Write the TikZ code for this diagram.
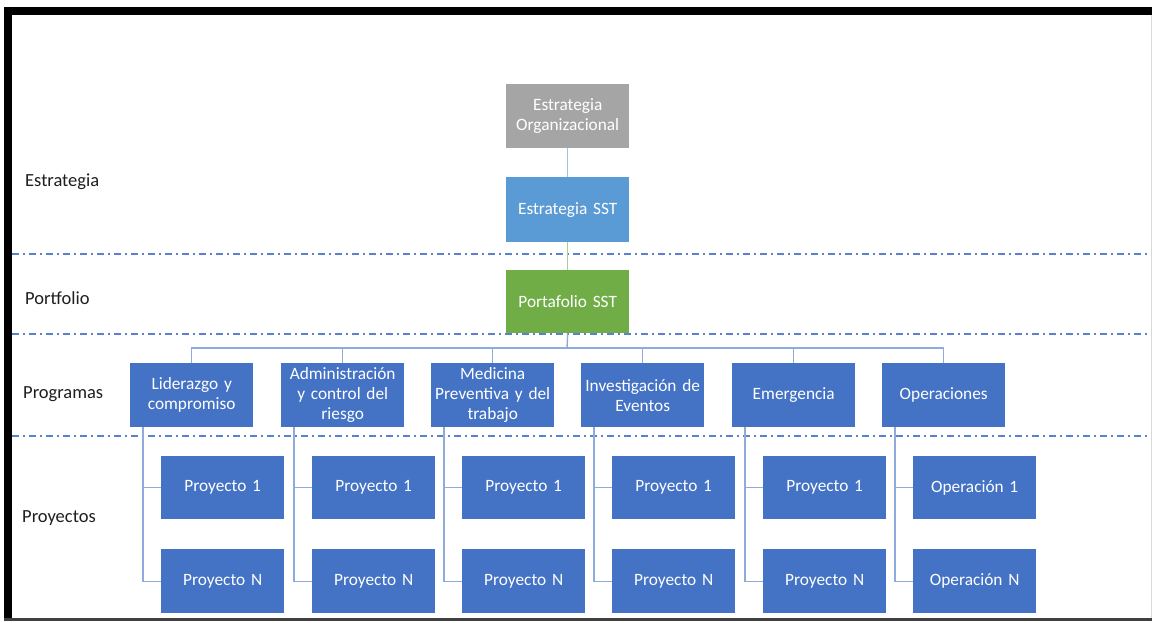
\documentclass[tikz,border=0pt]{standalone}
\usepackage{fontspec}
\setmainfont{Carlito}
\definecolor{orggray}{HTML}{A5A5A5}
\definecolor{sstblue}{HTML}{5B9BD5}
\definecolor{portgreen}{HTML}{70AD47}
\definecolor{boxblue}{HTML}{4472C4}
\definecolor{linkblue}{HTML}{8FAADC}
\definecolor{linkgreen}{HTML}{A9D18E}
\definecolor{linklight}{HTML}{9DC3E6}
\definecolor{sepblue}{HTML}{5A82CC}
\definecolor{labeltext}{HTML}{1E1E1E}
\begin{document}
\begin{tikzpicture}[x=1pt,y=-1pt,
  basebox/.style={text=white, inner sep=0pt, anchor=north west, align=center,
    minimum width=123pt, text width=121pt, font=\fontsize{17.3}{20}\selectfont},
  topbox/.style={basebox, minimum height=64pt},
  progbox/.style={basebox, fill=boxblue, minimum height=64pt},
  projbox/.style={basebox, fill=boxblue, minimum height=63pt},
  conn/.style={draw=linkblue, line width=1.4pt},
  sep/.style={draw=sepblue, line width=1.9pt, dash pattern=on 7pt off 4pt on 2pt off 4pt},
  rowlabel/.style={anchor=west, inner sep=0pt, text=labeltext, font=\fontsize{18.5}{20}\selectfont}
]
\useasboundingbox (0,0) rectangle (1152,622);

% frame
\fill[black] (4,7) rectangle (1152,15);
\fill[black] (4,7) rectangle (12,620);
\fill[black!75] (4,618) rectangle (1152,621);
\fill[black!15] (1150.5,15) rectangle (1152,618);

% level separators
\draw[sep] (12,254) -- (1150,254);
\draw[sep] (12,334) -- (1150,334);
\draw[sep] (12,436) -- (1150,436);

% row labels
\node[rowlabel] (lEst) at (25,182) {Estrategia};
\node[rowlabel] (lPort) at (25,298) {Portfolio};
\node[rowlabel] (lProg) at (23,394) {Programas};
\node[rowlabel] (lProy) at (22,518) {Proyectos};

% top chain
\node[topbox, fill=orggray] (org) at (506,84) {Estrategia\\Organizacional};
\node[topbox, fill=sstblue, minimum height=65pt] (sst) at (506,177) {Estrategia SST};
\node[topbox, fill=portgreen, minimum height=63pt] (port) at (506,270) {Portafolio SST};
\draw[draw=linklight, line width=1.4pt] (org.south) -- (sst.north);
\draw[draw=linkgreen, line width=1.4pt] (sst.south) -- (port.north);

% programs
\node[progbox] (g1) at (130,363) {Liderazgo y\\compromiso};
\node[progbox] (g2) at (281,363) {Administración\\y control del\\riesgo};
\node[progbox] (g3) at (431,363) {Medicina\\Preventiva y del\\trabajo};
\node[progbox] (g4) at (581,363) {Investigación de\\Eventos};
\node[progbox] (g5) at (732,363) {Emergencia};
\node[progbox] (g6) at (882,363) {Operaciones};

\coordinate (bus) at (567,348);
\draw[conn] (port.south) -- (bus);
\foreach \g in {g1,g2,g3,g4,g5,g6}{
  \draw[conn] (bus) -| (\g.north);
}

% projects
\node[projbox] (g1a) at (161,456) {Proyecto 1};
\node[projbox, minimum height=64pt] (g1b) at (161,549) {Proyecto N};
\node[projbox] (g2a) at (312,456) {Proyecto 1};
\node[projbox, minimum height=64pt] (g2b) at (312,549) {Proyecto N};
\node[projbox] (g3a) at (462,456) {Proyecto 1};
\node[projbox, minimum height=64pt] (g3b) at (462,549) {Proyecto N};
\node[projbox] (g4a) at (612,456) {Proyecto 1};
\node[projbox, minimum height=64pt] (g4b) at (612,549) {Proyecto N};
\node[projbox] (g5a) at (763,456) {Proyecto 1};
\node[projbox, minimum height=64pt] (g5b) at (763,549) {Proyecto N};
\node[projbox] (g6a) at (913,456) {Operación 1};
\node[projbox, minimum height=64pt] (g6b) at (913,549) {Operación N};

\foreach \g in {g1,g2,g3,g4,g5,g6}{
  \draw[conn] ([xshift=13pt]\g.south west) |- (\g b.west);
  \draw[conn] ([xshift=13pt]\g.south west) |- (\g a.west);
}
\end{tikzpicture}
\end{document}
